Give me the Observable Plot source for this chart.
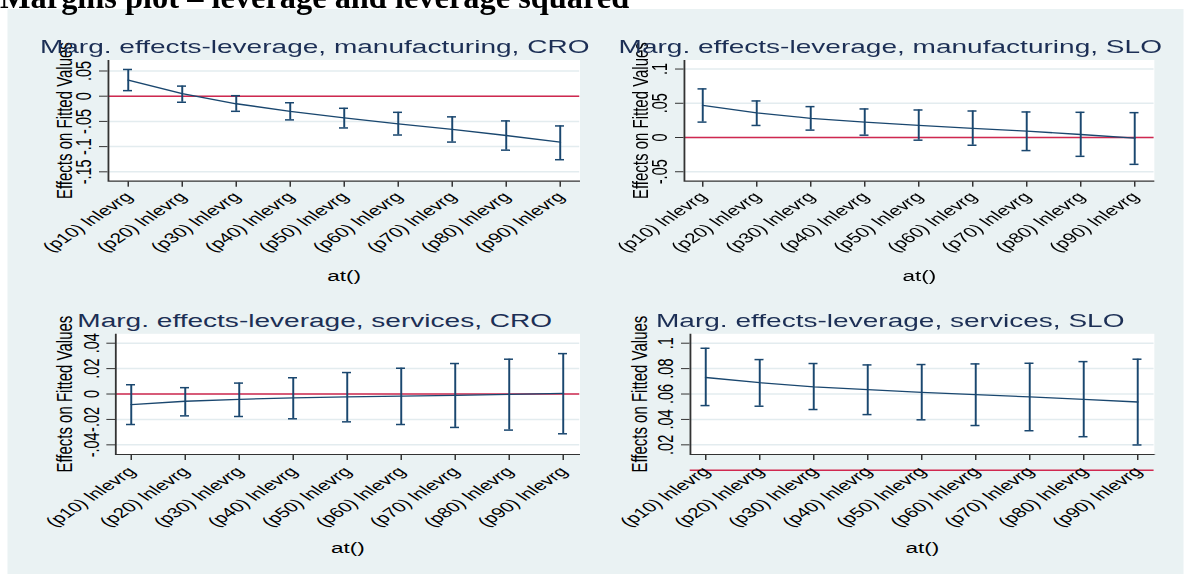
<!DOCTYPE html>
<html>
<head>
<meta charset="utf-8">
<script src="https://cdn.jsdelivr.net/npm/d3@7"></script>
<script src="https://cdn.jsdelivr.net/npm/@observablehq/plot@0.6"></script>
<style>
  html, body { margin: 0; padding: 0; background: #ffffff; overflow: hidden; }
  body { width: 1184px; height: 574px; position: relative; }
  #heading { position: absolute; left: 0; top: 0; z-index: 2; pointer-events: none; }
  #stretch { position: absolute; left: 0; top: 0; width: 789.333px; height: 574px;
             transform: scaleX(1.5); transform-origin: 0 0; }
  #bg { position: absolute; left: 5.333px; top: 9px; right: 0; bottom: 0; background: #eaf2f3; }
  .panel { position: absolute; }
</style>
</head>
<body>
<svg id="heading" width="1184" height="20"></svg>
<div id="stretch"><div id="bg"></div></div>
<script>
// ---------- data ----------
const heading = "Margins plot – leverage and leverage squared";
const cats = ["(p10) lnlevrg", "(p20) lnlevrg", "(p30) lnlevrg", "(p40) lnlevrg", "(p50) lnlevrg",
              "(p60) lnlevrg", "(p70) lnlevrg", "(p80) lnlevrg", "(p90) lnlevrg"];
const xTitle = "at()";
const yTitle = "Effects on Fitted Values";

const titleMfgCro = "Marg. effects-leverage, manufacturing, CRO";
const mfgCroEst = [0.032, 0.005, -0.015, -0.030, -0.043, -0.055, -0.066, -0.078, -0.091];
const mfgCroLo  = [0.011, -0.012, -0.030, -0.047, -0.063, -0.077, -0.091, -0.107, -0.126];
const mfgCroHi  = [0.053, 0.020, 0.001, -0.013, -0.024, -0.032, -0.041, -0.049, -0.059];
const mfgCroTicks = [-0.15, -0.1, -0.05, 0, 0.05];
const mfgCroTickLabels = ["-.15", "-.1", "-.05", "0", ".05"];

const titleMfgSlo = "Marg. effects-leverage, manufacturing, SLO";
const mfgSloEst = [0.047, 0.036, 0.028, 0.0225, 0.0176, 0.0132, 0.0093, 0.0044, -0.001];
const mfgSloLo  = [0.0225, 0.0176, 0.0108, 0.0034, -0.0039, -0.0113, -0.0191, -0.0275, -0.0392];
const mfgSloHi  = [0.071, 0.0534, 0.0451, 0.0417, 0.0402, 0.0387, 0.0373, 0.0368, 0.0363];
const mfgSloTicks = [-0.05, 0, 0.05, 0.1];
const mfgSloTickLabels = ["-.05", "0", ".05", ".1"];

const titleSrvCro = "Marg. effects-leverage, services, CRO";
const srvCroEst = [-0.0083, -0.0057, -0.0042, -0.0031, -0.0023, -0.0016, -0.0010, -0.0003, 0.0005];
const srvCroLo  = [-0.0240, -0.0172, -0.0177, -0.0195, -0.0219, -0.0240, -0.0263, -0.0284, -0.0313];
const srvCroHi  = [0.0073, 0.0050, 0.0086, 0.0128, 0.0169, 0.0203, 0.0240, 0.0274, 0.0318];
const srvCroTicks = [-0.04, -0.02, 0, 0.02, 0.04];
const srvCroTickLabels = ["-.04", "-.02", "0", ".02", ".04"];

const titleSrvSlo = "Marg. effects-leverage, services, SLO";
const srvSloEst = [0.0730, 0.0689, 0.0657, 0.0634, 0.0613, 0.0595, 0.0577, 0.0558, 0.0537];
const srvSloLo  = [0.0509, 0.0504, 0.0478, 0.0438, 0.0397, 0.0352, 0.0311, 0.0264, 0.0199];
const srvSloHi  = [0.0960, 0.0871, 0.0840, 0.0829, 0.0832, 0.0837, 0.0842, 0.0855, 0.0874];
const srvSloTicks = [0.02, 0.04, 0.06, 0.08, 0.1];
const srvSloTickLabels = [".02", ".04", ".06", ".08", ".1"];

// ---------- style ----------
const FONT = "'Liberation Sans', Arial, Helvetica, sans-serif";
const NAVY = "#1a476f";
const RED = "#d0284f";
const GRID = "#e3ecef";
const AXIS = "#333333";
const TITLE_COLOR = "#1c2f55";
const HW = 789.333 / 2, HH = 287;

// heading (document title, partly cut off at top)
const hs = d3.select("#heading");
hs.append("text").attr("x", 0).attr("y", 7.5)
  .attr("font-family", "'Liberation Serif', 'Times New Roman', serif")
  .attr("font-weight", "bold").attr("font-size", 32.4).attr("fill", "#000")
  .text(heading);

function panel(cfg) {
  const rows = cats.map((c, i) => ({cat: c, est: cfg.est[i], lo: cfg.lo[i], hi: cfg.hi[i]}));
  const tickRows = cfg.ticks.map((v, i) => ({v, label: cfg.tickLabels[i]}));
  const W = HW - cfg.mL - cfg.mR;
  const H = HH - cfg.mT - cfg.mB;
  const chart = Plot.plot({
    width: HW, height: HH,
    marginLeft: cfg.mL, marginRight: cfg.mR, marginTop: cfg.mT, marginBottom: cfg.mB,
    style: `background: transparent; overflow: visible; font-family: ${FONT}; color: ${AXIS};`,
    x: {type: "band", domain: cats, paddingInner: 0.826, paddingOuter: 0.185,
        tickSize: 6, tickFormat: () => "", label: null},
    y: {domain: cfg.domain, ticks: cfg.ticks, tickSize: 5.8, tickFormat: () => "", label: null},
    marks: [
      Plot.frame({fill: "white"}),
      Plot.ruleY(cfg.ticks, {stroke: GRID, strokeWidth: 1.5}),
      Plot.ruleY([0], {stroke: RED, strokeWidth: 1.4}),
      Plot.line(rows, {x: "cat", y: "est", stroke: NAVY, strokeWidth: 1.3}),
      Plot.ruleX(rows, {x: "cat", y1: "lo", y2: "hi", stroke: NAVY, strokeWidth: 1.3}),
      Plot.tickY(rows, {x: "cat", y: "lo", stroke: NAVY, strokeWidth: 1.5}),
      Plot.tickY(rows, {x: "cat", y: "hi", stroke: NAVY, strokeWidth: 1.5}),
      Plot.frame({stroke: AXIS, strokeWidth: 1.2, strokeDasharray: `0 ${W + H} ${W + H}`}),
      // y tick labels
      Plot.text(tickRows, {y: "v", text: "label", frameAnchor: "left", rotate: -90,
        textAnchor: "middle", lineAnchor: "bottom", dx: -11.5, fontSize: 14.5, fill: "#000"}),
      // x tick labels
      Plot.text(cats, {x: d => d, frameAnchor: "bottom", rotate: -45, textAnchor: "end",
        lineAnchor: "middle", dy: cfg.xdy, dx: 0.5, fontSize: 14, fill: "#000"}),
      // x axis title
      Plot.text([xTitle], {frameAnchor: "bottom", lineAnchor: "bottom", dy: cfg.atdy,
        fontSize: 15, fill: "#000"}),
      // y axis title
      Plot.text([yTitle], {frameAnchor: "left", rotate: -90, textAnchor: "middle",
        lineAnchor: "bottom", dx: cfg.ytdx, fontSize: 15, fill: "#000"}),
      // panel title
      Plot.text([cfg.title], {frameAnchor: "top-left", textAnchor: "middle", lineAnchor: "bottom",
        dx: cfg.titleX - cfg.mL, dy: cfg.titleDy, fontSize: 18.7, fill: TITLE_COLOR})
    ]
  });
  const wrap = document.createElement("div");
  wrap.className = "panel";
  wrap.style.left = cfg.left + "px";
  wrap.style.top = cfg.top + "px";
  wrap.appendChild(chart);
  document.getElementById("stretch").appendChild(wrap);
}

panel({title: titleMfgCro, est: mfgCroEst, lo: mfgCroLo, hi: mfgCroHi,
  ticks: mfgCroTicks, tickLabels: mfgCroTickLabels, domain: [-0.1686, 0.0718],
  left: 0, top: 0, mL: 71.8, mR: 8.5, mT: 59.5, mB: 106.3,
  xdy: 13.5, atdy: 99.5, ytdx: -24, titleX: 209.3, titleDy: -6.8});
panel({title: titleMfgSlo, est: mfgSloEst, lo: mfgSloLo, hi: mfgSloHi,
  ticks: mfgSloTicks, tickLabels: mfgSloTickLabels, domain: [-0.0638, 0.1132],
  left: HW, top: 0, mL: 60.8, mR: 20.6, mT: 59.5, mB: 106.3,
  xdy: 13.5, atdy: 99.5, ytdx: -24.3, titleX: 198, titleDy: -6.8});
panel({title: titleSrvCro, est: srvCroEst, lo: srvCroLo, hi: srvCroHi,
  ticks: srvCroTicks, tickLabels: srvCroTickLabels, domain: [-0.0476, 0.0474],
  left: 0, top: HH, mL: 76.7, mR: 8.5, mT: 46.3, mB: 120,
  xdy: 14.8, atdy: 99, ytdx: -28.9, titleX: 209.3, titleDy: -6.6});
panel({title: titleSrvSlo, est: srvSloEst, lo: srvSloLo, hi: srvSloHi,
  ticks: srvSloTicks, tickLabels: srvSloTickLabels, domain: [0.0124, 0.1074],
  left: HW, top: HH, mL: 64.8, mR: 20.6, mT: 46.3, mB: 120,
  xdy: 14.8, atdy: 99, ytdx: -28.8, titleX: 198, titleDy: -6.6});
</script>
</body>
</html>
